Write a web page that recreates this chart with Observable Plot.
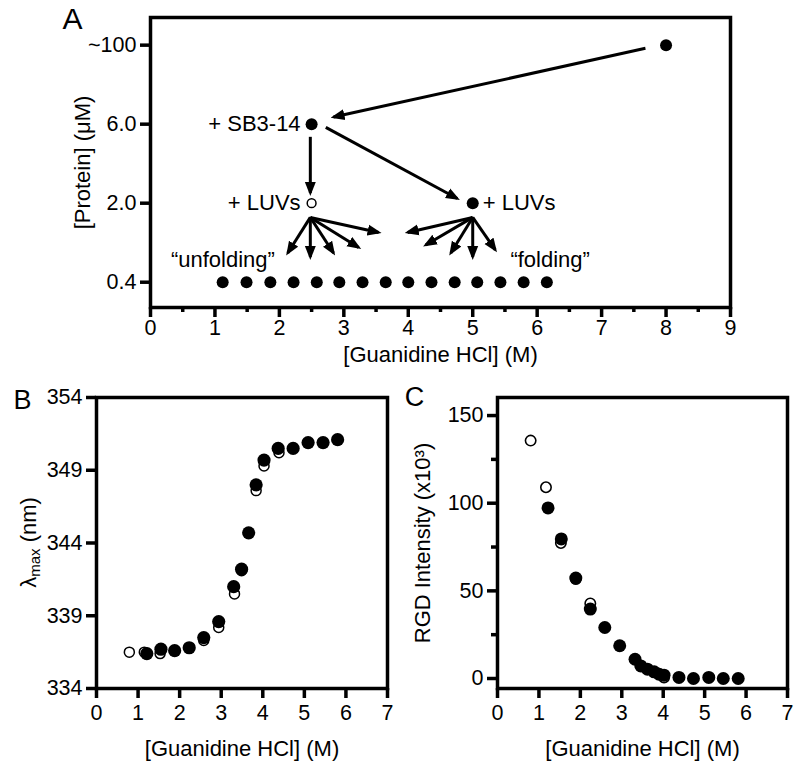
<!DOCTYPE html>
<html><head><meta charset="utf-8">
<script src="https://cdn.jsdelivr.net/npm/d3@7"></script>
<script src="https://cdn.jsdelivr.net/npm/@observablehq/plot@0.6"></script>
<style>
body{margin:0;background:#fff;}
#root{position:relative;width:800px;height:768px;background:#fff;overflow:hidden;}
#root svg{position:absolute;overflow:visible;}
</style></head><body><div id="root"></div>
<script>
const FONT = "'Liberation Sans', Arial, Helvetica, sans-serif";

// ---------- Panel A data ----------
const levelLabels = ["0.4", "2.0", "6.0", "~100"];
const screenConc = [1.12, 1.49, 1.86, 2.22, 2.58, 2.93, 3.29, 3.65, 4.00, 4.36, 4.72, 5.07, 5.43, 5.79, 6.15];
const aFilledX = [8.0, 2.5, 5.0];
const aFilledLevel = [3, 2, 1];
const aOpenX = [2.5];
const aOpenLevel = [1];
// arrows: [x1, level1, x2, level2]
const aArrows = [
  [7.68, 2.96, 2.84, 2.09],
  [2.48, 1.84, 2.48, 1.13],
  [2.72, 1.96, 4.76, 1.06],
  [2.48, 0.82, 2.13, 0.37],
  [2.48, 0.82, 2.48, 0.32],
  [2.48, 0.82, 2.84, 0.37],
  [2.48, 0.82, 3.23, 0.44],
  [2.48, 0.82, 3.54, 0.63],
  [5.00, 0.82, 3.99, 0.63],
  [5.00, 0.82, 4.27, 0.47],
  [5.00, 0.82, 4.66, 0.37],
  [5.00, 0.82, 5.00, 0.32],
  [5.00, 0.82, 5.35, 0.41]
];
const aLabelsLeft = [
  {text: "+ SB3-14", x: 2.5, y: 2},
  {text: "+ LUVs", x: 2.5, y: 1},
  {text: "\u201Cunfolding\u201D", x: 2.1, y: 0.28}
];
const aLabelsRight = [
  {text: "+ LUVs", x: 5.0, y: 1},
  {text: "\u201Cfolding\u201D", x: 5.43, y: 0.28}
];

// ---------- Panel B data ----------
const bOpenX = [0.79, 1.15, 1.53, 2.58, 2.94, 3.32, 3.49, 3.84, 4.03, 4.39];
const bOpenY = [336.5, 336.5, 336.4, 337.3, 338.2, 340.5, 342.1, 347.6, 349.3, 350.2];
const bFilledX = [1.21, 1.55, 1.88, 2.23, 2.58, 2.94, 3.30, 3.49, 3.66, 3.84, 4.03, 4.37, 4.73, 5.09, 5.45, 5.80];
const bFilledY = [336.4, 336.7, 336.6, 336.8, 337.5, 338.6, 341.0, 342.2, 344.7, 348.0, 349.7, 350.5, 350.5, 350.9, 350.9, 351.1];
const bYTicks = [334, 339, 344, 349, 354];

// ---------- Panel C data ----------
const cOpenX = [0.80, 1.17, 1.53, 1.89, 2.24, 4.02];
const cOpenY = [135.7, 109.1, 77.3, 56.7, 42.8, 0.6];
const cFilledX = [1.22, 1.54, 1.89, 2.24, 2.59, 2.95, 3.32, 3.46, 3.62, 3.78, 3.90, 4.02, 4.38, 4.73, 5.10, 5.45, 5.81];
const cFilledY = [97.3, 79.6, 57.3, 39.6, 29.1, 18.7, 11.0, 7.2, 5.3, 3.8, 2.5, 1.9, 0.6, 0, 0.6, 0, 0];
const cYTicks = [0, 50, 100, 150];
const cYMinor = [25, 75, 125];
const xTicks7 = [0, 1, 2, 3, 4, 5, 6, 7];

function headMarker(color) {
  const ns = "http://www.w3.org/2000/svg";
  const m = document.createElementNS(ns, "marker");
  m.setAttribute("viewBox", "-11 -6 14 12");
  m.setAttribute("markerWidth", 14);
  m.setAttribute("markerHeight", 12);
  m.setAttribute("markerUnits", "userSpaceOnUse");
  m.setAttribute("orient", "auto");
  m.setAttribute("refX", 0);
  m.setAttribute("refY", 0);
  const p = document.createElementNS(ns, "path");
  p.setAttribute("d", "M-11,-5.5L3,0L-11,5.5Z");
  p.setAttribute("fill", "black");
  p.setAttribute("stroke", "none");
  m.appendChild(p);
  return m;
}

const baseStyle = {fontFamily: FONT, fontSize: "21.5px", color: "black", background: "transparent", overflow: "visible"};
const root = document.getElementById("root");
const centered = {textAnchor: "middle", lineAnchor: "middle"};

// ---------- Panel A ----------
const plotA = Plot.plot({
  width: 800, height: 370,
  marginLeft: 150, marginRight: 70, marginTop: 17, marginBottom: 63,
  x: {domain: [0, 9]},
  y: {domain: [-0.32, 3.35]},
  style: baseStyle,
  marks: [
    Plot.frame({strokeWidth: 3.5}),
    Plot.axisX(d3.range(0.5, 9, 1), {tickSize: 5, strokeWidth: 3.5, tickFormat: () => "", label: null}),
    Plot.axisX(d3.range(0, 10), {tickSize: 10, strokeWidth: 3.5, tickPadding: 2, label: null}),
    Plot.axisY(d3.range(4), {tickSize: 10, strokeWidth: 3.5, tickPadding: 4, tickFormat: i => levelLabels[i], label: null}),
    Plot.link(aArrows, {x1: d => d[0], y1: d => d[1], x2: d => d[2], y2: d => d[3], stroke: "black", strokeWidth: 3, markerEnd: headMarker}),
    Plot.dot(screenConc, {x: d => d, y: () => 0, r: 6, fill: "black"}),
    Plot.dot(aFilledX, {x: aFilledX, y: aFilledLevel, r: 6, fill: "black"}),
    Plot.dot(aOpenX, {x: aOpenX, y: aOpenLevel, r: 4.4, fill: "white", stroke: "black", strokeWidth: 1.5}),
    Plot.text(aLabelsLeft, {x: "x", y: "y", text: "text", textAnchor: "end", dx: -11, fontSize: 22}),
    Plot.text(aLabelsRight, {x: "x", y: "y", text: "text", textAnchor: "start", dx: 10, fontSize: 22}),
    Plot.text(["[Protein] (\u03BCM)"], {text: d => d, frameAnchor: "left", dx: -68, rotate: -90, fontSize: 22, ...centered}),
    Plot.text(["[Guanidine HCl] (M)"], {text: d => d, frameAnchor: "bottom", dy: 47, fontSize: 22, ...centered}),
    Plot.text(["A"], {text: d => d, frameAnchor: "top-left", dx: -78, dy: 2, fontSize: 30, ...centered})
  ]
});
plotA.style.left = "0px"; plotA.style.top = "0px";
root.appendChild(plotA);

// ---------- Panel B ----------
const plotB = Plot.plot({
  width: 400, height: 388,
  marginLeft: 96, marginRight: 13, marginTop: 17, marginBottom: 80,
  x: {domain: [0, 7]},
  y: {domain: [334, 354]},
  style: baseStyle,
  marks: [
    Plot.frame({strokeWidth: 3.5}),
    Plot.axisX(xTicks7, {tickSize: 10, strokeWidth: 3.5, tickPadding: 6, label: null}),
    Plot.axisY(bYTicks, {tickSize: 10, strokeWidth: 3.5, tickPadding: 4, label: null}),
    Plot.dot(bOpenX, {x: bOpenX, y: bOpenY, r: 5, fill: "white", stroke: "black", strokeWidth: 1.5}),
    Plot.dot(bFilledX, {x: bFilledX, y: bFilledY, r: 6.6, fill: "black"}),
    Plot.text(["[Guanidine HCl] (M)"], {text: d => d, frameAnchor: "bottom", dy: 60, fontSize: 22, ...centered}),
    Plot.text(["B"], {text: d => d, frameAnchor: "top-left", dx: -74, dy: 3, fontSize: 27, ...centered})
  ]
});
plotB.style.left = "0px"; plotB.style.top = "380px";
root.appendChild(plotB);
{
  const t = d3.select(plotB).append("text")
    .attr("transform", `translate(30,${(17 + 308) / 2}) rotate(-90)`)
    .attr("text-anchor", "middle")
    .attr("dominant-baseline", "middle")
    .attr("font-family", FONT)
    .attr("font-size", 22)
    .attr("fill", "black");
  t.append("tspan").text("\u03BB");
  t.append("tspan").attr("font-size", 15).attr("dy", 6).text("max");
  t.append("tspan").attr("dy", -6).text(" (nm)");
}

// ---------- Panel C ----------
const plotC = Plot.plot({
  width: 400, height: 388,
  marginLeft: 97, marginRight: 13, marginTop: 17, marginBottom: 80,
  x: {domain: [0, 7]},
  y: {domain: [-5.7, 160.3]},
  style: baseStyle,
  marks: [
    Plot.frame({strokeWidth: 3.5}),
    Plot.axisX(xTicks7, {tickSize: 10, strokeWidth: 3.5, tickPadding: 6, label: null}),
    Plot.axisY(cYMinor, {tickSize: 6, strokeWidth: 3.5, tickFormat: () => "", label: null}),
    Plot.axisY(cYTicks, {tickSize: 10, strokeWidth: 3.5, tickPadding: 4, label: null}),
    Plot.dot(cOpenX, {x: cOpenX, y: cOpenY, r: 5.2, fill: "white", stroke: "black", strokeWidth: 1.6}),
    Plot.dot(cFilledX, {x: cFilledX, y: cFilledY, r: 6.5, fill: "black"}),
    Plot.text(["[Guanidine HCl] (M)"], {text: d => d, frameAnchor: "bottom", dy: 60, fontSize: 22, ...centered}),
    Plot.text(["RGD Intensity (x10\u00B3)"], {text: d => d, frameAnchor: "left", dx: -75, rotate: -90, fontSize: 22, ...centered}),
    Plot.text(["C"], {text: d => d, frameAnchor: "top-left", dx: -83, dy: 0, fontSize: 27, ...centered})
  ]
});
plotC.style.left = "400px"; plotC.style.top = "380px";
root.appendChild(plotC);
</script>
</body></html>
